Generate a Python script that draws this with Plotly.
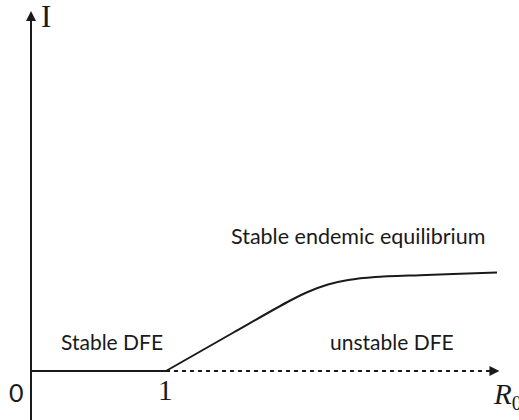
import plotly.graph_objects as go

# Data (R0 on x, I on y)
dfe_x = [0.0, 1.0]
dfe_y = [0.0, 0.0]
unstable_x = [1.0, 3.44]
unstable_y = [0.0, 0.0]
endemic_x = [1.0, 1.5, 1.9, 2.05, 2.2, 2.35, 2.55, 2.88, 3.18, 3.452]
endemic_y = [0.0, 0.385, 0.69, 0.79, 0.865, 0.91, 0.94, 0.958, 0.972, 0.985]

labels = {"stable_dfe": "Stable DFE", "unstable_dfe": "unstable DFE",
          "endemic": "Stable endemic equilibrium"}

ink = "#1a1a1a"
fig = go.Figure()
fig.add_trace(go.Scatter(x=dfe_x, y=dfe_y, mode="lines", line=dict(color=ink, width=2)))
fig.add_trace(go.Scatter(x=unstable_x, y=unstable_y, mode="lines",
                         line=dict(color=ink, width=2, dash="4px,4px")))
fig.add_trace(go.Scatter(x=endemic_x, y=endemic_y, mode="lines",
                         line=dict(color=ink, width=2, shape="spline", smoothing=0.8)))

ann = []
# vertical axis with arrow
ann.append(dict(x=0, y=3.60, ax=0, ay=-0.6, xref="x", yref="y", axref="x", ayref="y",
                showarrow=True, arrowhead=2, arrowsize=1, arrowwidth=2, arrowcolor=ink, text=""))
# arrowhead at end of dashed line
ann.append(dict(x=3.47, y=0, ax=3.40, ay=0, xref="x", yref="y", axref="x", ayref="y",
                showarrow=True, arrowhead=2, arrowsize=1, arrowwidth=2, arrowcolor=ink, text=""))
serif = "Liberation Serif"
sans = "Lato"
ann.append(dict(x=0.111, y=3.55, xref="x", yref="y", text="I", showarrow=False,
                font=dict(family=serif, size=31, color=ink)))
ann.append(dict(x=-0.111, y=-0.21, xref="x", yref="y", text="0", showarrow=False,
                font=dict(family=sans, size=25, color=ink)))
ann.append(dict(x=1.0, y=-0.19, xref="x", yref="y", text="1", showarrow=False,
                font=dict(family=serif, size=29, color=ink)))
ann.append(dict(x=3.405, y=-0.25, xref="x", yref="y", text="<i>R</i><sub>0</sub>", showarrow=False,
                xanchor="left", font=dict(family=serif, size=29, color=ink)))
ann.append(dict(x=0.6, y=0.30, xref="x", yref="y", text=labels["stable_dfe"], showarrow=False,
                font=dict(family=sans, size=21, color=ink)))
ann.append(dict(x=2.674, y=0.30, xref="x", yref="y", text=labels["unstable_dfe"], showarrow=False,
                font=dict(family=sans, size=21, color=ink)))
ann.append(dict(x=2.426, y=1.35, xref="x", yref="y", text=labels["endemic"], showarrow=False,
                font=dict(family=sans, size=21.5, color=ink)))

fig.update_layout(
    width=519, height=420, margin=dict(l=0, r=0, t=0, b=0),
    paper_bgcolor="white", plot_bgcolor="white", showlegend=False,
    xaxis=dict(range=[-0.2296, 3.615], visible=False, fixedrange=True),
    yaxis=dict(range=[-0.49, 3.71], visible=False, fixedrange=True),
    annotations=ann,
)
fig.write_html("out.html", config={"displayModeBar": False},
               post_script="document.body.style.margin='0';document.body.style.overflow='hidden';")
